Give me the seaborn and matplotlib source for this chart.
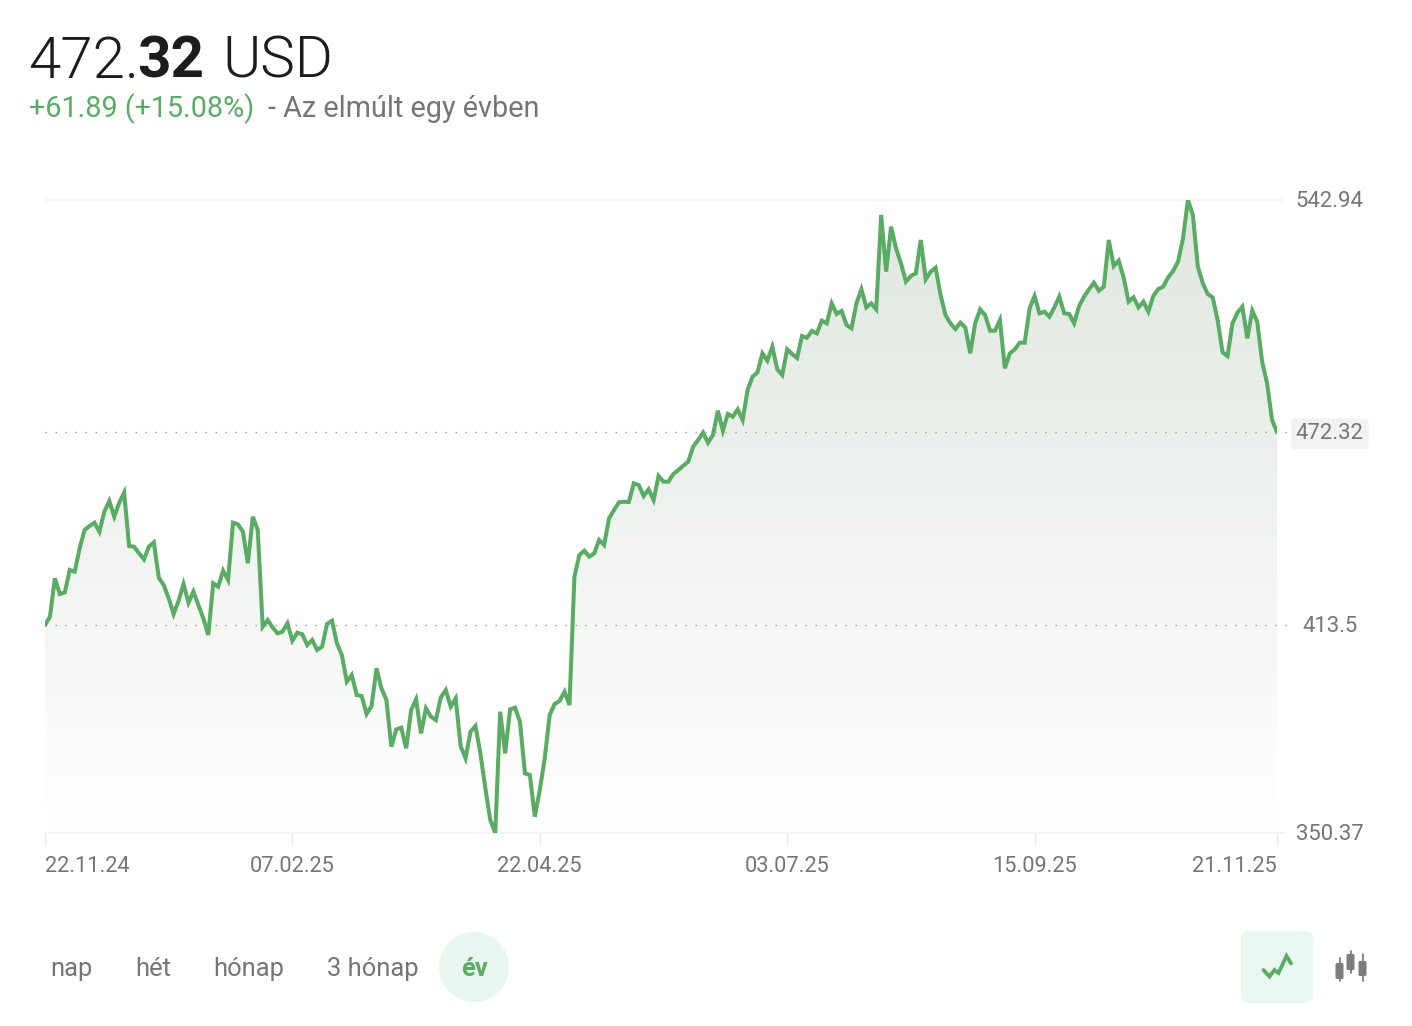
import matplotlib
matplotlib.use("Agg")
import matplotlib.pyplot as plt
from matplotlib.colors import LinearSegmentedColormap
from matplotlib.patches import Circle, FancyBboxPatch
from matplotlib.transforms import Affine2D
import numpy as np
import pandas as pd
import seaborn as sns

sns.set_theme(style="white")
plt.rcParams["font.family"] = ["Roboto", "DejaVu Sans"]

# daily close
prices = [
    413.64, 416.18, 427.84, 423.08, 423.58, 430.38, 429.87, 436.97, 442.55, 443.76,
    444.78, 442.04, 448.12, 451.37, 446.60, 450.86, 453.90, 437.68, 437.48, 435.45,
    433.62, 437.48, 438.79, 428.04, 425.81, 421.76, 417.00, 421.05, 426.12, 420.44,
    423.79, 419.73, 415.67, 410.60, 426.32, 425.31, 430.17, 427.34, 444.78, 444.27,
    442.04, 432.41, 446.60, 442.55, 413.14, 415.17, 412.93, 411.11, 411.62, 414.15,
    408.88, 411.31, 410.81, 407.56, 409.08, 406.04, 407.05, 413.95, 414.96, 408.07,
    404.50, 396.40, 398.43, 392.35, 392.04, 386.57, 389.00, 400.46, 394.37, 390.82,
    376.63, 381.90, 382.41, 376.12, 387.78, 391.03, 380.68, 388.29, 385.75, 384.74,
    391.64, 393.87, 388.80, 391.33, 376.83, 373.08, 381.19, 382.92, 374.60, 363.95,
    354.32, 350.37, 387.28, 374.60, 387.99, 388.49, 384.23, 368.51, 368.01, 355.33,
    363.44, 373.08, 386.26, 389.61, 390.52, 393.36, 389.30, 428.35, 434.94, 436.26,
    434.43, 435.45, 439.50, 437.98, 446.09, 448.63, 450.96, 451.16, 451.06, 456.74,
    456.23, 452.89, 454.92, 451.67, 458.97, 457.25, 457.25, 459.58, 460.80, 462.12,
    463.33, 467.90, 469.92, 472.16, 469.11, 471.45, 478.85, 472.76, 477.84, 477.02,
    479.25, 476.01, 485.14, 489.19, 490.51, 496.29, 494.06, 498.32, 491.42, 489.70,
    497.51, 496.09, 494.87, 501.57, 501.06, 503.09, 502.38, 506.23, 505.42, 511.50,
    508.26, 509.17, 504.91, 503.90, 511.50, 515.76, 510.29, 511.50, 509.68, 538.38,
    521.14, 534.83, 528.24, 523.67, 518.09, 519.82, 520.63, 530.77, 518.80, 521.14,
    522.35, 514.04, 507.95, 505.42, 503.69, 505.62, 504.20, 496.29, 505.42, 509.68,
    507.95, 503.19, 503.19, 506.43, 491.73, 496.29, 497.51, 499.53, 499.53, 509.98,
    513.73, 508.46, 508.97, 507.44, 510.28, 513.53, 508.46, 508.26, 505.42, 510.69,
    513.53, 515.76, 517.79, 515.35, 516.57, 530.77, 522.86, 524.48, 519.41, 512.01,
    513.33, 510.28, 512.01, 508.97, 513.73, 515.86, 516.57, 519.41, 521.34, 524.18,
    531.28, 542.94, 538.37, 522.66, 517.59, 514.34, 513.33, 506.43, 496.59, 495.48,
    505.42, 508.66, 510.49, 500.85, 509.27, 505.92, 493.75, 487.16, 476.01, 472.32,
]
date_ticks = [0, 50, 100, 150, 200, 249]
date_labels = ["22.11.24", "07.02.25", "22.04.25", "03.07.25", "15.09.25", "21.11.25"]
y_min, y_mid, y_last, y_max = 350.37, 413.5, 472.32, 542.94
y_labels = ["350.37", "413.5", "472.32", "542.94"]
range_buttons = ["nap", "hét", "hónap", "3 hónap"]
range_x = [50, 135, 213, 327]

GREEN = "#5aab64"
GREY = "#757575"

df = pd.DataFrame({"day": range(len(prices)), "price": prices})

fig = plt.figure(figsize=(14.12, 10.26), dpi=100)
ax = fig.add_axes([45 / 1412, 1 - 833 / 1026, 1232 / 1412, 633 / 1026])
ax.patch.set_alpha(0)

# gradient under the line
fade = LinearSegmentedColormap.from_list("fade", ["#dfe6df", "#ffffff"])
area = ax.fill_between(df["day"], df["price"], y_min, color="none")
grad = ax.imshow(
    np.linspace(0, 1, 256).reshape(-1, 1),
    cmap=fade,
    aspect="auto",
    extent=(0, 249, y_min, y_max),
    origin="upper",
    zorder=1,
)
grad.set_clip_path(area.get_paths()[0], ax.transData)

# guide lines
ax.axhline(y_max, xmax=1.006, color="#f2f2f2", lw=1.3, clip_on=False, zorder=2)
ax.axhline(y_min, xmax=1.006, color="#f2f2f2", lw=1.3, clip_on=False, zorder=2)
for level in (y_mid, y_last):
    ax.axhline(level, xmax=1.008, color="#9a9a9a", lw=1.0, ls=(0, (1, 6.2)), clip_on=False, zorder=2)

sns.lineplot(
    data=df, x="day", y="price", ax=ax, color=GREEN, lw=2.9,
    errorbar=None, zorder=3, solid_joinstyle="miter", solid_capstyle="round",
)

ax.set_xlim(0, 249)
ax.set_ylim(y_min, y_max)
ax.set_xlabel("")
ax.set_ylabel("")
sns.despine(ax=ax, left=True, bottom=True)

ax.set_xticks(date_ticks, date_labels)
ax.tick_params(axis="x", length=8.5, width=1, color="#e8e8e8", labelsize=15.7, labelcolor=GREY, pad=8.3, bottom=True)
xlabels = ax.get_xticklabels()
xlabels[0].set_ha("left")
xlabels[-1].set_ha("right")

ax.yaxis.tick_right()
ax.set_yticks([y_min, y_mid, y_last, y_max], y_labels)
ax.tick_params(axis="y", length=0, labelsize=15.9, labelcolor=GREY, pad=38)
for lab in ax.get_yticklabels():
    lab.set_ha("center")
    lab.set_transform(lab.get_transform() + Affine2D().translate(0, 1))
ax.get_yticklabels()[2].set_bbox(
    dict(boxstyle="round,pad=0.22,rounding_size=0.2", fc="#f2f2f2", ec="none")
)

# page furniture, in pixel coordinates
ui = fig.add_axes([0, 0, 1, 1], zorder=5)
ui.set_xlim(0, 1412)
ui.set_ylim(1026, 0)
ui.axis("off")
ui.patch.set_alpha(0)

ui.text(28, 78, "472.", fontsize=42, fontweight=300, color="#1c1c1e", va="baseline")
ui.text(137, 78, "32", fontsize=42, fontweight="bold", color="#1c1c1e", va="baseline")
ui.text(222, 78, "USD", fontsize=42, fontweight=300, color="#1c1c1e", va="baseline")
ui.text(29, 117, "+61.89 (+15.08%)", fontsize=20.7, color=GREEN, va="baseline")
ui.text(268, 117, "- Az elmúlt egy évben", fontsize=20.8, color=GREY, va="baseline")

for label, x in zip(range_buttons, range_x):
    ui.text(x, 969, label, fontsize=18.4, color=GREY, va="center")
ui.add_patch(Circle((474, 967), 35, fc="#e9f5ef", ec="none"))
ui.text(474, 969, "év", fontsize=18.4, fontweight="bold", color=GREEN, va="center", ha="center")

ui.add_patch(FancyBboxPatch((1247, 937), 60, 60, boxstyle="round,pad=6,rounding_size=8", fc="#eaf6f0", ec="none"))
ui.plot([1263.5, 1269.5, 1274.5, 1278.5, 1286.5, 1291], [970, 976.5, 970, 973, 956, 963.5],
        color=GREEN, lw=2.7, solid_joinstyle="miter")
for cx, wick_top, wick_bot, body_top, body_bot in [
    (1339.5, 958, 981, 964, 978),
    (1350.5, 951, 973, 955, 969),
    (1362.5, 954, 981, 962, 975),
]:
    ui.plot([cx, cx], [wick_top, wick_bot], color="#7c7c7c", lw=1.3)
    ui.add_patch(FancyBboxPatch((cx - 3, body_top), 6, body_bot - body_top,
                                boxstyle="round,pad=1,rounding_size=1.5", fc="#7c7c7c", ec="none"))

fig.savefig("out.png", dpi=100)
